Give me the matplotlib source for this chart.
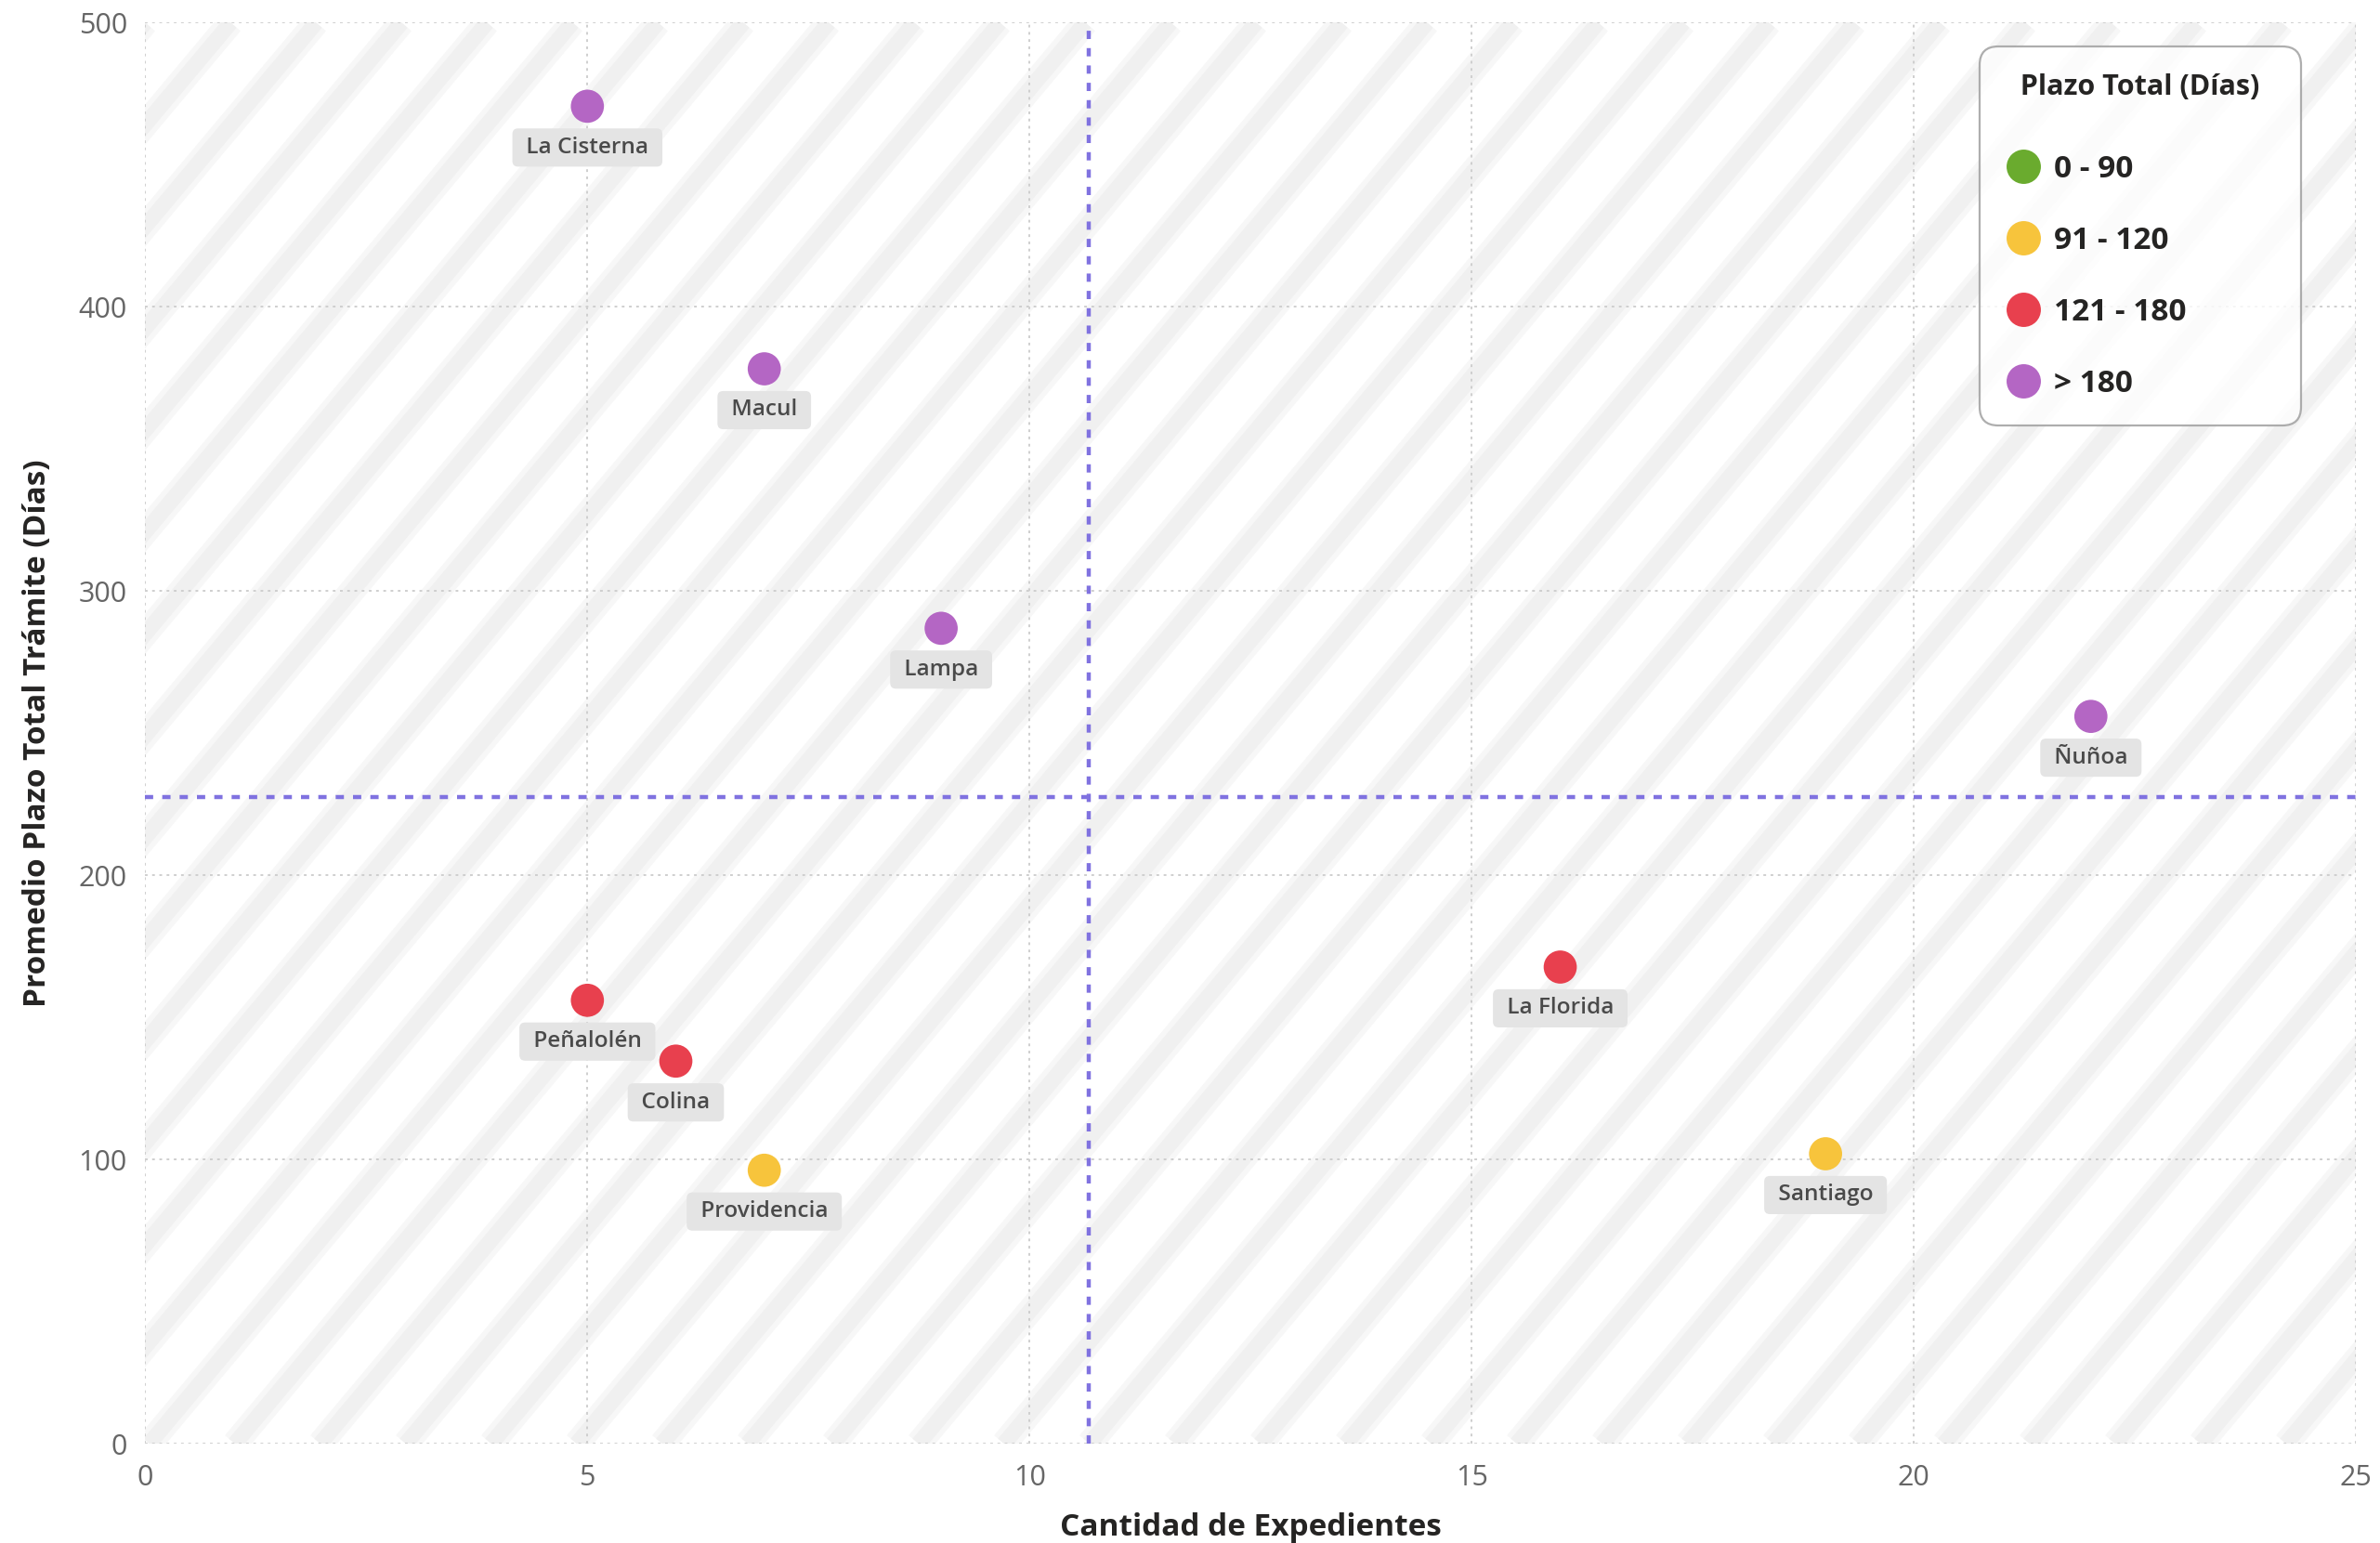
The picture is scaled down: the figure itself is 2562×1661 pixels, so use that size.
import numpy as np
import pandas as pd
import matplotlib
matplotlib.use("Agg")
import matplotlib.pyplot as plt
from matplotlib.lines import Line2D

plt.rcParams['font.family'] = ['Open Sans', 'DejaVu Sans']

# data
comunas = ["La Cisterna", "Macul", "Lampa", "Ñuñoa", "La Florida",
           "Santiago", "Peñalolén", "Colina", "Providencia"]
expedientes = [5, 7, 9, 22, 16, 19, 5, 6, 7]
plazo = [470.6, 378.2, 286.9, 255.9, 167.7, 102.0, 156.0, 134.6, 96.2]

rangos = ["0 - 90", "91 - 120", "121 - 180", "> 180"]
colores = ["#6AAB2E", "#F7C43C", "#E8404E", "#B466C4"]

df = pd.DataFrame({"comuna": comunas, "exp": expedientes, "plazo": plazo})
df["rango"] = pd.cut(df["plazo"], bins=[0, 90, 120, 180, np.inf], labels=rangos)
color_map = dict(zip(rangos, colores))

fig = plt.figure(figsize=(12.81, 8.305), dpi=200)
ax = fig.add_axes([0.061, 0.0644, 0.929, 0.9209])
ax.set_xlim(0, 25)
ax.set_ylim(0, 500)

# diagonal stripes in the background (~50 deg, ~92 px apart)
w_px, h_px = 0.929 * 2562, 0.9209 * 1661
step = 92 / w_px
run = h_px / np.tan(np.radians(50)) / w_px
for u in np.arange(-run - step, 1 + step, step):
    ax.plot([u, u + run], [0, 1], transform=ax.transAxes,
            color="#f7f7f7", lw=10, solid_capstyle="butt", zorder=0)
    ax.plot([u, u + run], [0, 1], transform=ax.transAxes,
            color="#f0f0f0", lw=6, solid_capstyle="butt", zorder=0)

ax.set_xticks(range(0, 26, 5))
ax.set_yticks(range(0, 501, 100))
ax.grid(True, color="#cfcfcf", linestyle=(0, (1.5, 2.5)), lw=0.7, zorder=1)
for s in ax.spines.values():
    s.set_visible(False)
ax.tick_params(length=0, labelsize=11, labelcolor="#666666")
ax.tick_params(axis="y", pad=7)
ax.tick_params(axis="x", pad=8)

# mean lines
ax.axvline(df["exp"].mean(), color="#8072E0", lw=1.6, linestyle=(0, (2, 2.2)), zorder=2)
ax.axhline(df["plazo"].mean(), color="#8072E0", lw=1.6, linestyle=(0, (2, 2.2)), zorder=2)

ax.scatter(df["exp"], df["plazo"], s=165, c=[color_map[r] for r in df["rango"]],
           edgecolors="none", zorder=4)

for _, r in df.iterrows():
    ax.annotate(" " + r["comuna"] + " ", (r["exp"], r["plazo"]), xytext=(0, -16),
                textcoords="offset points", ha="center", va="center",
                fontsize=8.8, fontweight="semibold", color="#4a4a4a", zorder=5,
                bbox=dict(boxstyle="round,pad=0.35,rounding_size=0.25",
                          fc="#e4e4e4", ec="none"))

ax.set_xlabel("Cantidad de Expedientes", fontsize=12, fontweight="bold",
              color="#252423", labelpad=8)
ax.set_ylabel("Promedio Plazo Total Trámite (Días)", fontsize=12,
              fontweight="bold", color="#252423", labelpad=10)

handles = [Line2D([], [], marker="o", ls="none", markersize=13.3, color=c,
                  markeredgecolor="none") for c in colores]
leg = ax.legend(handles, rangos, title="  Plazo Total (Días)  ", loc="upper right",
                bbox_to_anchor=(0.975, 0.983), fontsize=12, labelspacing=1.32,
                handletextpad=0.45, borderpad=0.85, handlelength=1.1,
                borderaxespad=0, frameon=True, fancybox=True, alignment="left",
                title_fontproperties={"weight": "bold", "size": 11})
for t in leg.get_texts():
    t.set_fontweight("bold")
    t.set_color("#252423")
leg.get_title().set_color("#252423")
leg.get_frame().set_edgecolor("#9a9a9a")
leg.get_frame().set_linewidth(0.8)
leg.get_frame().set_boxstyle("round,pad=0,rounding_size=0.6")
leg._legend_box.sep = 20.5
leg.set_zorder(6)

fig.savefig("out.png", dpi=200, facecolor="white")
